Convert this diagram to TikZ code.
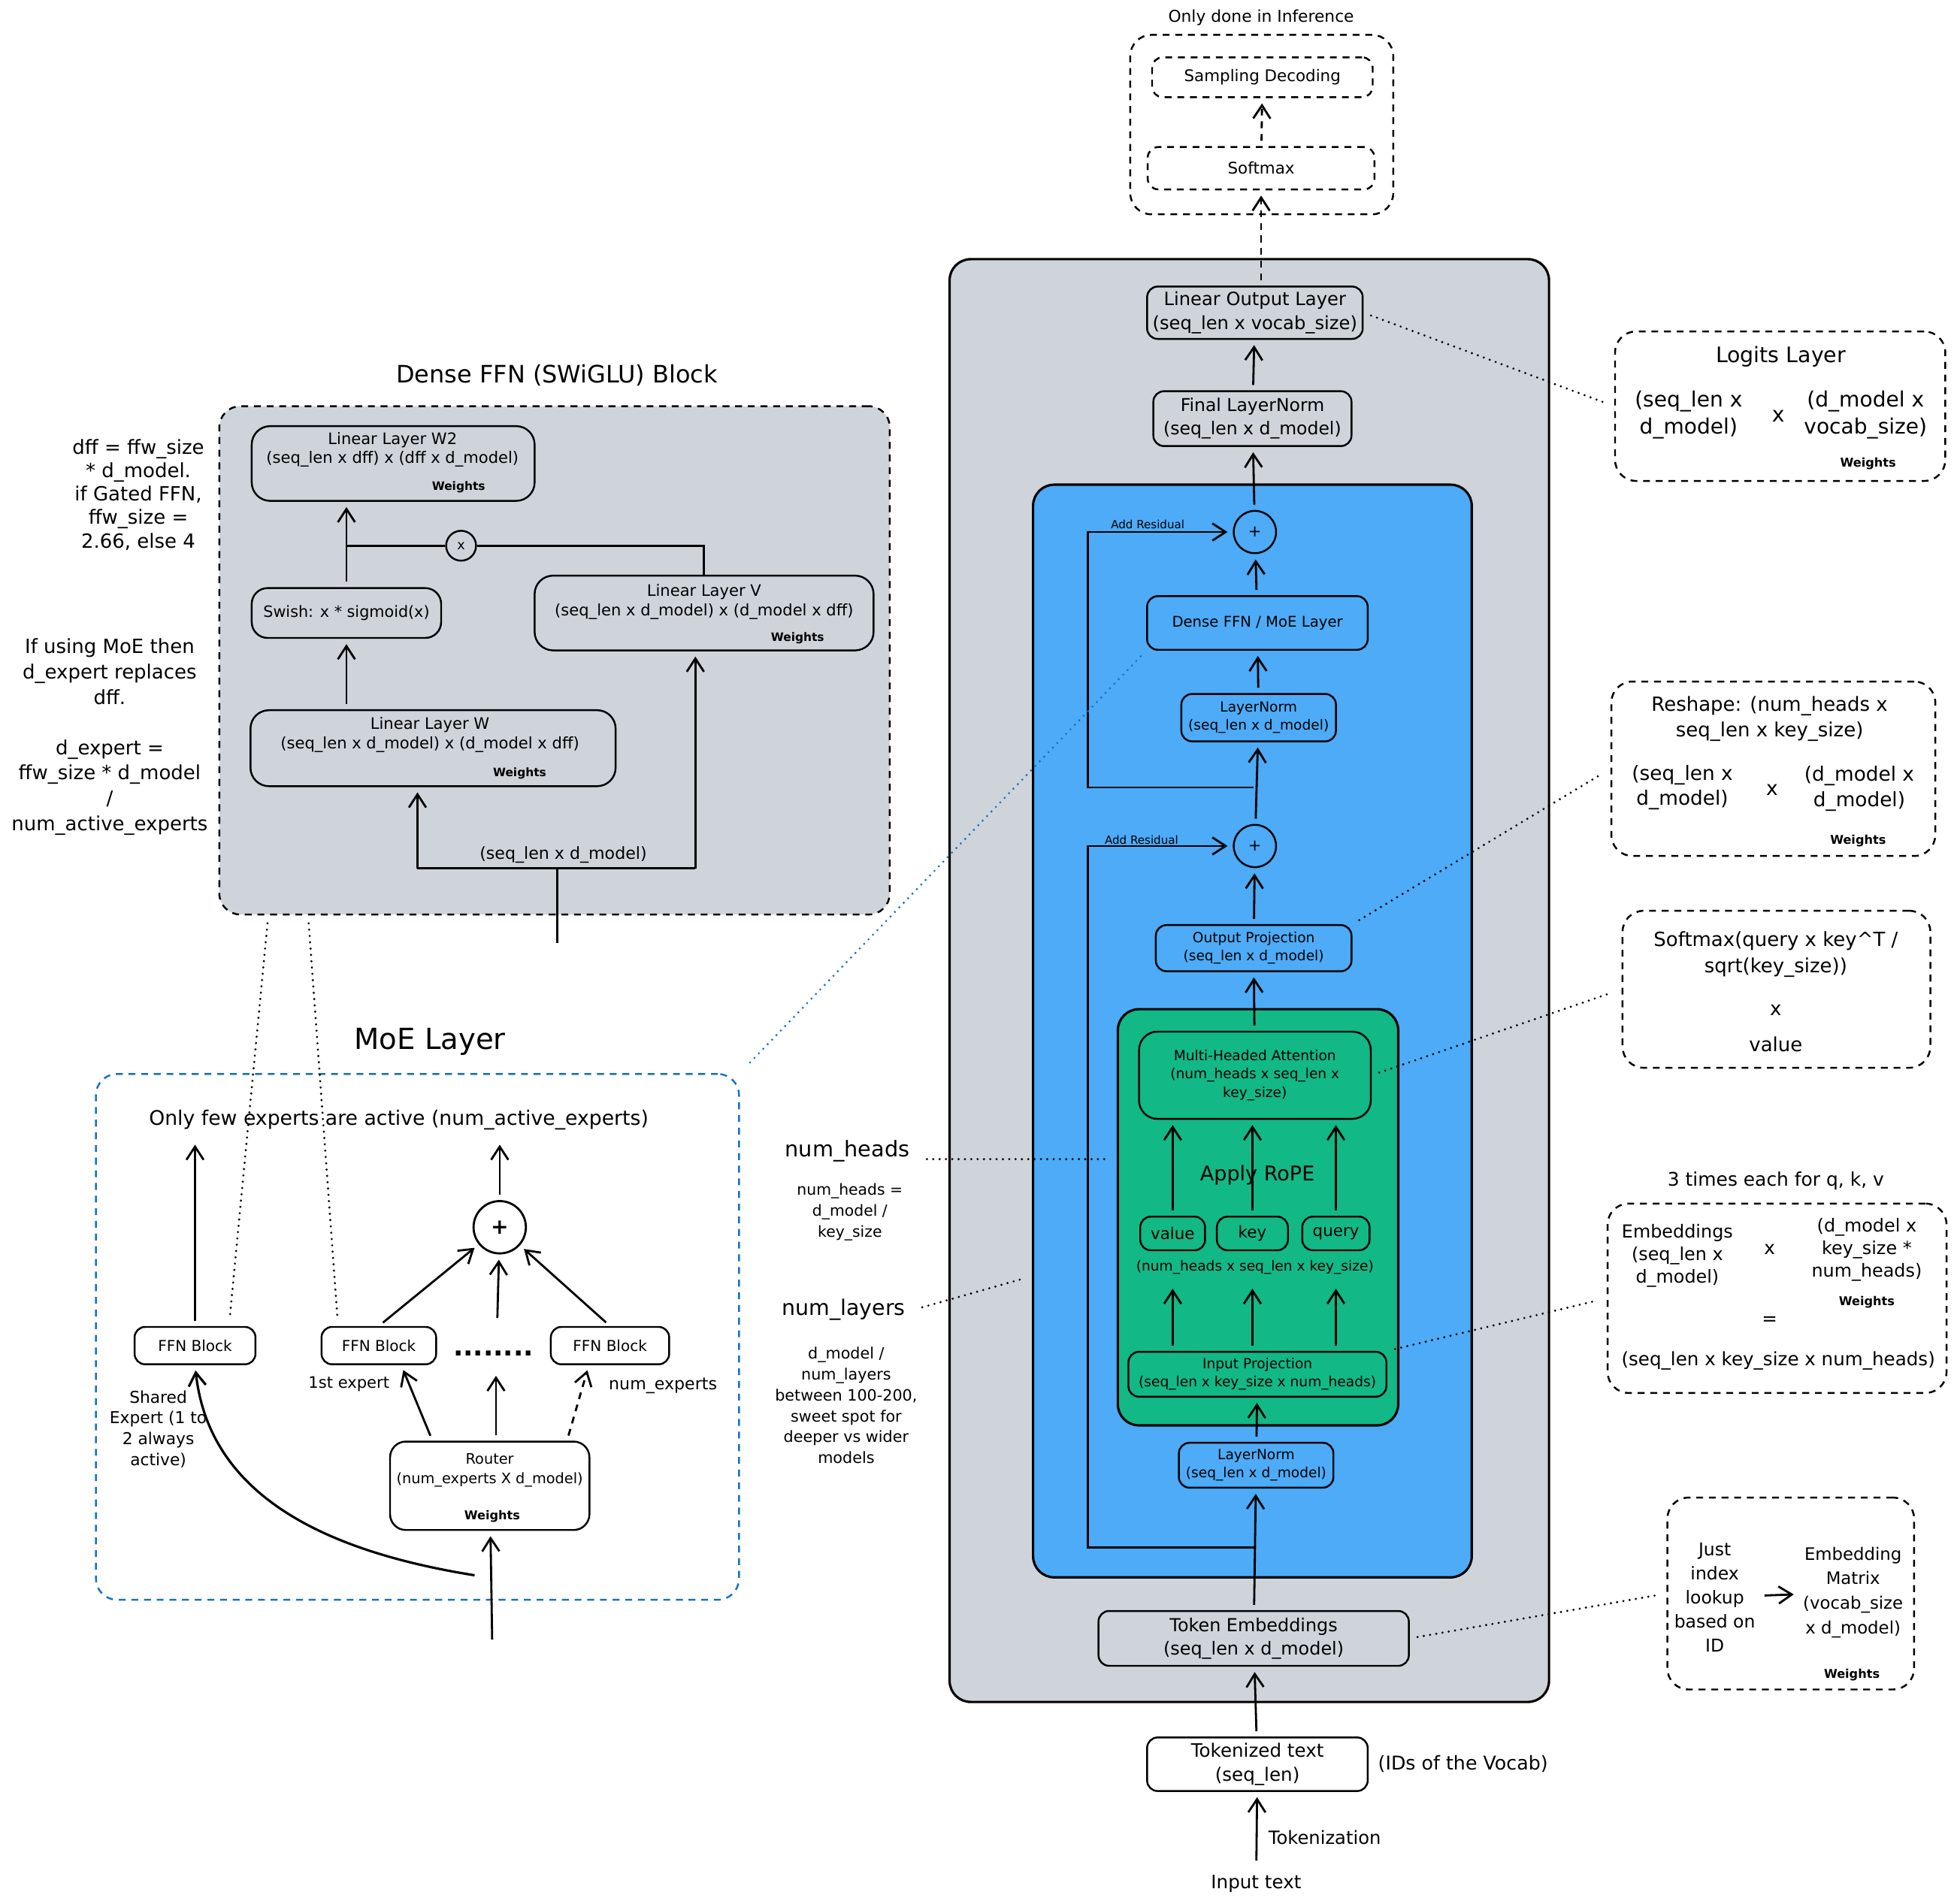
\documentclass[tikz,border=0pt]{standalone}
\usepackage{fontspec}
\setmainfont{DejaVu Sans}
\usetikzlibrary{arrows.meta,calc}
\definecolor{stackgray}{HTML}{CED4DA}
\definecolor{layerblue}{HTML}{4DABF7}
\definecolor{attgreen}{HTML}{12B886}
\definecolor{moeblue}{HTML}{1971C2}
\newcommand{\pxu}{0.0166cm}
\newcommand{\fsz}[2]{\fontsize{#1}{#2}\selectfont}
\tikzstyle{blk}=[
        draw,
        line width=0.7pt,
        rounded corners=4pt,
        inner sep=0pt,
        align=center
]
\tikzstyle{area}=[
        blk,
        line width=0.9pt,
        rounded corners=8pt
]
\tikzstyle{sumnode}=[
        circle,
        draw,
        line width=0.7pt,
        inner sep=0pt
]
\tikzstyle{dsh}=[dash pattern=on 2.6pt off 2.2pt]
\tikzstyle{dotln}=[
        line width=0.9pt,
        line cap=round,
        dash pattern=on 0pt off 2.4pt,
        shorten <=3pt,
        shorten >=4pt
]
\tikzstyle{arr}=[
        -{Straight Barb[length=5pt,width=6.5pt]},
        line width=0.8pt,
        shorten <=2pt,
        shorten >=2pt
]
\tikzstyle{wts}=[font=\bfseries\fsz{4.6}{5.5}]
\tikzset{sz/.style 2 args={minimum width=#1*\pxu, minimum height=#2*\pxu}}

\begin{document}
\begin{tikzpicture}[x=\pxu, y=-\pxu]
                    \useasboundingbox (0,0) rectangle (1568,1528);

                    \node[area, fill=stackgray, sz={481}{1158}] (stack) at (1002.5,787) {};
                    \node[area, fill=layerblue, sz={352}{877}] (layer) at (1005,827.5) {};
                    \node[area, fill=attgreen, sz={225}{334}] (attn) at (1009.5,977) {};
                    \node[area, dsh, line width=0.7pt, sz={211}{144}] (infer) at (1012.5,100) {};
                    \node[area, dsh, line width=0.7pt, fill=stackgray, sz={538}{408}] (ffnbox) at (445,530) {};
                    \node[area, dsh, line width=0.7pt, draw=moeblue, sz={516}{422}] (moe) at (335,1073) {};

                    \node[font=\fsz{6.2}{7.5}] (infertitle) at (1012,14) {Only done in Inference};
                    \node[blk, dsh, sz={177}{32}, font=\fsz{6.1}{7.5}] (sampling) at (1013,62) {Sampling Decoding};
                    \node[blk, dsh, sz={182}{34}, font=\fsz{6.1}{7.5}] (softmax) at (1012,135) {Softmax};

                    \node[blk, sz={173}{42}, font=\fsz{6.9}{8.9}] (linout) at (1007,251) {Linear Output Layer\\(seq\_len x vocab\_size)};
                    \node[blk, sz={159}{44}, font=\fsz{6.7}{8.9}] (finalln) at (1005,336) {Final LayerNorm\\(seq\_len x d\_model)};
                    \node[sumnode, minimum size=34*\pxu, font=\fsz{6}{7}] (plusA) at (1007,427) {+};
                    \node[blk, sz={177}{43}, font=\fsz{5.6}{7}] (dense) at (1009,500) {Dense FFN / MoE Layer};
                    \node[blk, sz={124}{38}, font=\fsz{5.3}{6.8}] (lnA) at (1010,576) {LayerNorm\\(seq\_len x d\_model)};
                    \node[sumnode, minimum size=34*\pxu, font=\fsz{6}{7}] (plusB) at (1007,679) {+};
                    \node[blk, sz={157}{37}, font=\fsz{5.3}{6.8}] (outproj) at (1006,761) {Output Projection\\(seq\_len x d\_model)};
                    \node[blk, rounded corners=7pt, sz={186}{70}, font=\fsz{5.3}{7}] (mha) at (1007,863) {Multi-Headed Attention\\(num\_heads x seq\_len x\\key\_size)};
                    \node[font=\fsz{7.7}{9}] (rope) at (1009,943) {Apply RoPE};
                    \node[blk, sz={52}{27}, font=\fsz{6.1}{7}] (value) at (941,990) {value};
                    \node[blk, sz={57}{27}, font=\fsz{6.1}{7}] (key) at (1005,990) {key};
                    \node[blk, sz={54}{27}, font=\fsz{6.1}{7}] (query) at (1072,990) {query};
                    \node[font=\fsz{5.3}{6.5}] (qkvdim) at (1007,1017) {(num\_heads x seq\_len x key\_size)};
                    \node[blk, sz={207}{36}, font=\fsz{5.3}{6.8}] (inproj) at (1009,1103) {Input Projection\\(seq\_len x key\_size x num\_heads)};
                    \node[blk, sz={124}{36}, font=\fsz{5.3}{6.8}] (lnB) at (1008,1176) {LayerNorm\\(seq\_len x d\_model)};
                    \node[blk, sz={249}{44}, font=\fsz{6.8}{8.9}] (tokemb) at (1006,1315) {Token Embeddings\\(seq\_len x d\_model)};
                    \node[blk, fill=white, sz={177}{43}, font=\fsz{7}{9}] (tokz) at (1009,1416) {Tokenized text\\(seq\_len)};
                    \node[font=\fsz{7.2}{8.5}] (ids) at (1174,1416) {(IDs of the Vocab)};
                    \node[font=\fsz{6.9}{8.5}] (tokzlbl) at (1063,1475) {Tokenization};
                    \node[font=\fsz{7}{8.5}] (input) at (1008,1512) {Input text};
                    \node[font=\fsz{4.3}{5}] (resAlbl) at (921,421) {Add Residual};
                    \node[font=\fsz{4.3}{5}] (resBlbl) at (916,674) {Add Residual};
                    \coordinate (resA) at (1006,632);
                    \coordinate (resAl) at (873,632);
                    \coordinate (resB) at (1008,1242);
                    \coordinate (resBl) at (873,1242);

                    \draw[arr] (input) -- (tokz);
                    \draw[arr] (tokz) -- (tokemb);
                    \draw[arr] (tokemb) -- (lnB);
                    \draw[arr] (lnB) -- (inproj);
                    \foreach \qkv in {value,key,query} {
                        \draw[arr] (\qkv |- inproj.north) -- (\qkv |- qkvdim.south);
                        \draw[arr] (\qkv) -- (\qkv |- mha.south);
                    }
                    \draw[arr] (mha) -- (outproj);
                    \draw[arr] (outproj) -- (plusB);
                    \draw[arr] (plusB) -- (lnA);
                    \draw[arr] (lnA) -- (dense);
                    \draw[arr] (dense) -- (plusA);
                    \draw[arr] (plusA) -- (finalln);
                    \draw[arr] (finalln) -- (linout);
                    \draw[arr, dsh] (linout.north -| softmax) -- (softmax);
                    \draw[arr, dsh] (softmax) -- (sampling);
                    \draw[arr, shorten <=0pt] (resA) -- (resAl) |- (plusA);
                    \draw[arr, shorten <=0pt] (resB) -- (resBl) |- (plusB);

                    \node[blk, dsh, rounded corners=8pt, sz={265}{120}] (logits) at (1428.5,326) {};
                    \node[font=\fsz{8.1}{10}] (logitsttl) at (1429,286) {Logits Layer};
                    \node[font=\fsz{8}{10}, align=center] (logitsA) at (1355,333) {(seq\_len x\\d\_model)};
                    \node[font=\fsz{8}{10}] (logitsX) at (1427,334) {x};
                    \node[font=\fsz{8}{10}, align=center] (logitsB) at (1497,333) {(d\_model x\\vocab\_size)};
                    \node[wts] (logitsW) at (1499,372) {Weights};

                    \node[blk, dsh, rounded corners=8pt, sz={260}{140}] (reshape) at (1423,617) {};
                    \node[font=\fsz{7.4}{9.8}, align=center] (reshapettl) at (1420,577) {Reshape: (num\_heads x\\seq\_len x key\_size)};
                    \node[font=\fsz{7.5}{9.6}, align=center] (reshapeA) at (1350,632) {(seq\_len x\\d\_model)};
                    \node[font=\fsz{7.5}{9.6}] (reshapeX) at (1422,634) {x};
                    \node[font=\fsz{7.5}{9.6}, align=center] (reshapeB) at (1492,633) {(d\_model x\\d\_model)};
                    \node[wts] (reshapeW) at (1491,675) {Weights};

                    \node[blk, dsh, rounded corners=8pt, sz={247}{126}] (softf) at (1425.5,794) {};
                    \node[font=\fsz{7.4}{9.8}, align=center] (softfA) at (1425,766) {Softmax(query x key\textasciicircum T /\\sqrt(key\_size))};
                    \node[font=\fsz{7.4}{9}] (softfX) at (1425,811) {x};
                    \node[font=\fsz{7.4}{9}] (softfB) at (1425,838) {value};

                    \node[font=\fsz{7.1}{9}] (qkvnote) at (1425,948) {3 times each for q, k, v};
                    \node[blk, dsh, rounded corners=8pt, sz={272}{152}] (embbox) at (1426,1042) {};
                    \node[font=\fsz{6.8}{8.6}, align=center] (embboxA) at (1346,1008) {Embeddings\\(seq\_len x\\d\_model)};
                    \node[font=\fsz{7}{9}] (embboxX) at (1420,1003) {x};
                    \node[font=\fsz{6.8}{8.6}, align=center] (embboxB) at (1498,1003) {(d\_model x\\key\_size *\\num\_heads)};
                    \node[wts] (embboxW) at (1498,1045) {Weights};
                    \node[font=\fsz{7}{9}] (embboxEq) at (1420,1060) {=};
                    \node[font=\fsz{7}{9}] (embboxC) at (1427,1092) {(seq\_len x key\_size x num\_heads)};

                    \node[blk, dsh, rounded corners=8pt, sz={198}{154}] (embmat) at (1437,1279) {};
                    \node[font=\fsz{6.7}{9.1}, align=center] (lookup) at (1376,1282) {Just\\index\\lookup\\based on\\ID};
                    \node[font=\fsz{6.5}{9.3}, align=center] (embmx) at (1487,1278) {Embedding\\Matrix\\(vocab\_size\\x d\_model)};
                    \node[wts] (embmatW) at (1486,1344) {Weights};
                    \draw[arr, shorten <=0pt, shorten >=0pt] (lookup) -- (embmx);

                    \draw[dotln] (linout.east) -- (logits.west);
                    \draw[dotln] (outproj.north east) -- (reshape.west);
                    \draw[dotln] (mha.east) -- (softf.west);
                    \draw[dotln] (inproj.north east) -- (embbox.west);
                    \draw[dotln] (tokemb.east) -- (embmat.west);

                    \node[font=\fsz{8.2}{10}] (numheads) at (680,924) {num\_heads};
                    \node[font=\fsz{5.8}{8}, align=center] (numheadseq) at (682,973) {num\_heads =\\d\_model /\\key\_size};
                    \node[font=\fsz{8.1}{10}] (numlayers) at (677,1051) {num\_layers};
                    \node[font=\fsz{5.9}{7.9}, align=center] (numlayerseq) at (679,1128) {d\_model /\\num\_layers\\between 100-200,\\sweet spot for\\deeper vs wider\\models};
                    \coordinate (layerL) at (829,1024);
                    \draw[dotln] ([yshift=-3pt]numheads.east) -- ([yshift=-3pt]numheads.east -| attn.west);
                    \draw[dotln] (numlayers.east) -- (layerL);

                    \node[font=\fsz{7.4}{8.9}, align=center] (dffnote) at (111,397) {dff = ffw\_size\\* d\_model.\\if Gated FFN,\\ffw\_size =\\2.66, else 4};
                    \node[font=\fsz{7.4}{9.6}, align=center] (moenote) at (88,539) {If using MoE then\\d\_expert replaces\\dff.};
                    \node[font=\fsz{7.4}{9.6}, align=center] (dexpnote) at (88,632) {d\_expert =\\ffw\_size * d\_model\\/\\num\_active\_experts};

                    \node[font=\fsz{9.1}{11}] (ffnttl) at (447,301) {Dense FFN (SWiGLU) Block};
                    \node[blk, rounded corners=7pt, sz={227}{60}] (w2) at (315.5,372) {};
                    \node[font=\fsz{6}{7.1}, align=center] (w2txt) at (315,361) {Linear Layer W2\\(seq\_len x dff) x (dff x d\_model)};
                    \node[wts, font=\bfseries\fsz{4.4}{5.3}] (w2W) at (368,391) {Weights};
                    \node[blk, rounded corners=6pt, sz={152}{40}, font=\fsz{5.9}{7}] (swish) at (278,492) {Swish: x * sigmoid(x)};
                    \node[blk, rounded corners=7pt, sz={272}{60}] (linv) at (565,492) {};
                    \node[font=\fsz{6}{7.4}, align=center] (linvtxt) at (565,483) {Linear Layer V\\(seq\_len x d\_model) x (d\_model x dff)};
                    \node[wts, font=\bfseries\fsz{4.4}{5.3}] (linvW) at (640,512) {Weights};
                    \node[blk, rounded corners=7pt, sz={293}{61}] (linw) at (347.5,600.5) {};
                    \node[font=\fsz{6}{7.4}, align=center] (linwtxt) at (345,590) {Linear Layer W\\(seq\_len x d\_model) x (d\_model x dff)};
                    \node[wts, font=\bfseries\fsz{4.4}{5.3}] (linwW) at (417,621) {Weights};
                    \node[sumnode, minimum size=24*\pxu, font=\fsz{5}{6}] (mult) at (370,438) {x};
                    \node[font=\fsz{6.3}{7.5}] (ffnindim) at (452,686) {(seq\_len x d\_model)};
                    \coordinate (gate) at (278,438);
                    \coordinate (ffnin) at (447,757);
                    \coordinate (ffnsplit) at (447,697);
                    \coordinate (ffnL) at (335,697);
                    \coordinate (ffnR) at (558,697);

                    \draw[arr] (swish.north) -- (swish.north |- w2.south);
                    \draw[line width=0.8pt] (gate) -- (mult);
                    \draw[line width=0.8pt] (mult) -| (linv.north);
                    \draw[arr] (swish |- linw.north) -- (swish);
                    \draw[line width=0.8pt] (ffnin) -- (ffnsplit);
                    \draw[line width=0.8pt] (ffnL) -- (ffnR);
                    \draw[arr, shorten <=0pt] (ffnL) -- (ffnL |- linw.south);
                    \draw[arr, shorten <=0pt] (ffnR) -- (ffnR |- linv.south);

                    \node[font=\fsz{11}{13}] (moettl) at (345,836) {MoE Layer};
                    \node[font=\fsz{7.6}{9}] (active) at (320,899) {Only few experts are active (num\_active\_experts)};
                    \node[blk, sz={97}{30}, font=\fsz{5.7}{7}] (ffnS) at (156.5,1080) {FFN Block};
                    \node[blk, sz={92}{30}, font=\fsz{5.7}{7}] (ffn1) at (304,1080) {FFN Block};
                    \node[blk, sz={95}{30}, font=\fsz{5.7}{7}] (ffnN) at (489.5,1080) {FFN Block};
                    \node[font=\bfseries\fsz{10}{12}] (ffndots) at (396,1086) {........};
                    \node[sumnode, line width=0.8pt, minimum size=42*\pxu, font=\bfseries\fsz{8}{9}] (plusM) at (401,985) {+};
                    \node[blk, rounded corners=6pt, sz={160}{71}] (router) at (393,1192.5) {};
                    \node[font=\fsz{5.5}{7.5}, align=center] (routertxt) at (393,1180) {Router\\(num\_experts X d\_model)};
                    \node[wts] (routerW) at (395,1217) {Weights};
                    \node[font=\fsz{6}{7.5}] (firstlbl) at (280,1111) {1st expert};
                    \node[font=\fsz{6.3}{7.5}] (nexplbl) at (532,1112) {num\_experts};
                    \node[font=\fsz{6.2}{7.9}, align=center] (sharedlbl) at (127,1147) {Shared\\Expert (1 to\\2 always\\active)};
                    \coordinate (midtop) at (399,1062);
                    \coordinate (midbot) at (398,1100);
                    \coordinate (moein) at (395,1320);
                    \coordinate (moecurve) at (385,1265);

                    \draw[arr] (ffnS) -- (ffnS |- active.south);
                    \draw[arr] (plusM) -- (plusM |- active.south);
                    \draw[arr] (ffn1.north) -- (plusM);
                    \draw[arr] (midtop) -- (plusM);
                    \draw[arr] (ffnN.north) -- (plusM);
                    \draw[arr] ($(router.north)+(-46,0)$) -- ($(ffn1.south)+(18,0)$);
                    \draw[arr] (router.north -| midbot) -- (midbot);
                    \draw[arr, dsh] ($(router.north)+(62,0)$) -- ($(ffnN.south)+(-17,0)$);
                    \draw[arr] (moein) -- (router);
                    \draw[arr, line width=0.9pt] (moecurve) .. controls (260,1245) and (168,1200) .. (ffnS.south);

                    \draw[dotln] ($(ffnbox.south west)+(40,0)$) -- ($(ffnS.north east)+(-22,0)$);
                    \draw[dotln] ($(ffnbox.south west)+(72,0)$) -- ($(ffn1.north west)+(14,0)$);
                    \draw[dotln, draw=moeblue] (dense.south west) -- (moe.north east);
                \end{tikzpicture}
\end{document}
